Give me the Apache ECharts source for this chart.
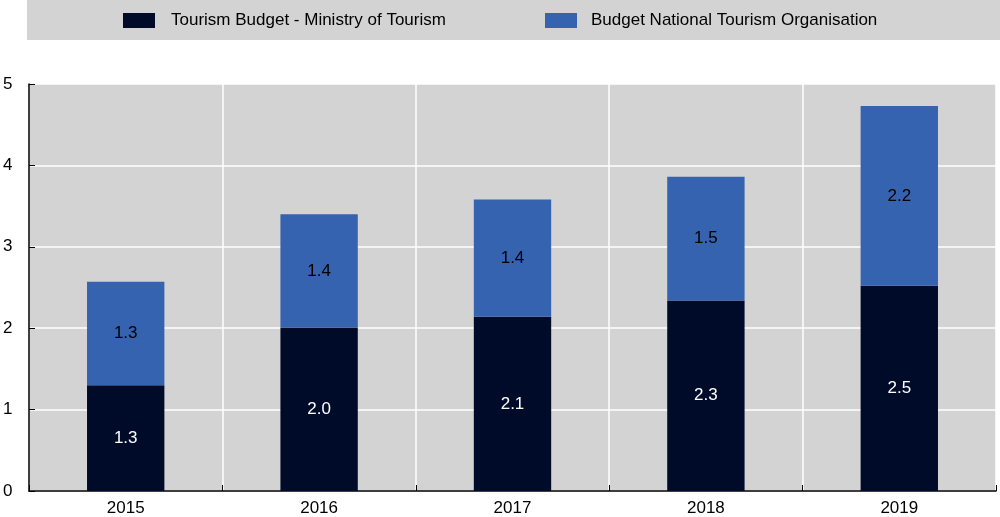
<!DOCTYPE html>
<html><head><meta charset="utf-8">
<script src="https://cdn.jsdelivr.net/npm/echarts@6/dist/echarts.min.js"></script>
<style>html,body{margin:0;padding:0;background:#fff}#c{width:1000px;height:517px}</style>
</head><body><div id="c"></div>
<script>
const categories = ['2015','2016','2017','2018','2019'];
const ministry = [1.30, 2.01, 2.14, 2.34, 2.52];
const nto = [1.27, 1.39, 1.44, 1.52, 2.21];
const seriesNames = ['Tourism Budget - Ministry of Tourism','Budget National Tourism Organisation'];
const yTicks = [0,1,2,3,4,5];

const chart = echarts.init(document.getElementById('c'));
const font = 'Liberation Sans, Arial, sans-serif';
chart.setOption({
  animation:false,
  textStyle:{fontFamily:font},
  graphic:[{type:'rect',left:27,top:0,shape:{width:973,height:40},style:{fill:'#d3d3d3'},z:-1}],
  legend:[
    {data:[seriesNames[0]],left:118,top:7,itemWidth:32,itemHeight:15,itemGap:0,
     textStyle:{fontSize:17,color:'#000',fontFamily:font,padding:[0,0,0,11]},icon:'rect'},
    {data:[seriesNames[1]],left:540,top:7,itemWidth:32,itemHeight:15,itemGap:0,
     textStyle:{fontSize:17,color:'#000',fontFamily:font,padding:[0,0,0,9]},icon:'rect'}
  ],
  grid:{left:26,right:4,top:84,bottom:25,containLabel:false,show:true,backgroundColor:'#d3d3d3',borderWidth:0},
  xAxis:{type:'category',data:categories,
    axisLine:{lineStyle:{color:'#000',width:1.5}},
    axisTick:{show:true,inside:true,length:6,lineStyle:{color:'#000'}},
    splitLine:{show:true,lineStyle:{color:'#fff',width:1.5}},
    axisLabel:{fontSize:17,color:'#000',margin:9,fontFamily:font}},
  yAxis:{type:'value',min:0,max:5,interval:1,
    axisLine:{show:true,lineStyle:{color:'#000',width:1.5}},
    axisTick:{show:true,inside:true,length:6,lineStyle:{color:'#000'}},
    splitLine:{show:true,lineStyle:{color:'#fff',width:1.5}},
    axisLabel:{fontSize:17,color:'#000',align:'left',margin:26,fontFamily:font,
      formatter:v=>yTicks.includes(v)?String(v):''}},
  series:[
    {name:seriesNames[0],type:'bar',stack:'a',data:ministry,barWidth:'40%',
     itemStyle:{color:'#000b2a'},
     label:{show:true,position:'inside',color:'#fff',fontSize:17,fontFamily:font,formatter:p=>p.value.toFixed(1)}},
    {name:seriesNames[1],type:'bar',stack:'a',data:nto,barWidth:'40%',
     itemStyle:{color:'#3563b0'},
     label:{show:true,position:'inside',color:'#000',fontSize:17,fontFamily:font,formatter:p=>p.value.toFixed(1)}}
  ]
});
</script></body></html>
